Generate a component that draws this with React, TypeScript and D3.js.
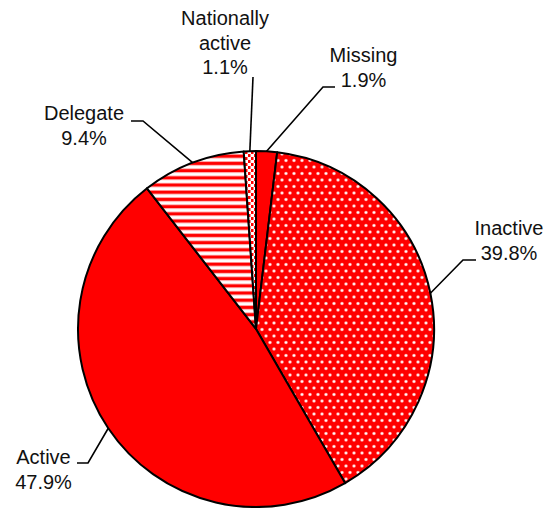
import React from "react";
import * as d3 from "d3";

const categories = ["Missing", "Inactive", "Active", "Delegate", "Nationally active"];
const values = [1.9, 39.8, 47.9, 9.4, 1.1];
const labelLines = [["Missing"], ["Inactive"], ["Active"], ["Delegate"], ["Nationally", "active"]];
const fills = ["solid", "dots", "solid", "stripes", "dashes"];

// label layout (text centre x, first baseline y, leader elbow, leader end)
const labelLayout = [
  { x: 363.5, y: 62, elbow: [323, 87], end: [335, 87] },
  { x: 509, y: 235, elbow: [463, 260], end: [476, 260] },
  { x: 43.5, y: 464, elbow: [88, 463], end: [77, 463] },
  { x: 84, y: 120, elbow: [143, 121], end: [131, 121] },
  { x: 225, y: 25, elbow: [253, 77], end: [253, 77] },
];

const W = 548;
const H = 508;
const CX = 256;
const CY = 329;
const R = 178;
const RED = "#ff0000";

export default function App() {
  const pie = d3.pie<number>().sort(null).value((d) => d).startAngle(0).endAngle(2 * Math.PI);
  const arcs = pie(values);
  const arc = d3.arc<d3.PieArcDatum<number>>().innerRadius(0).outerRadius(R);
  const edge = d3.arc<d3.PieArcDatum<number>>().innerRadius(R).outerRadius(R);

  const fillFor = (f: string) =>
    f === "solid" ? RED : f === "dots" ? "url(#dots)" : f === "stripes" ? "url(#stripes)" : "url(#dashes)";

  return (
    <svg
      width={W}
      height={H}
      style={{ position: "absolute", left: 0, top: 0, background: "#fff" }}
      fontFamily="'Liberation Sans', Arial, sans-serif"
    >
      <defs>
        <pattern id="dots" patternUnits="userSpaceOnUse" width={8} height={13} x={CX} y={CY}>
          <rect width={8} height={13} fill={RED} />
          <circle cx={2} cy={3} r={1.8} fill="#ffa0a0" />
          <circle cx={2} cy={3} r={1.0} fill="#fff" />
          <circle cx={6} cy={9.5} r={1.8} fill="#ffa0a0" />
          <circle cx={6} cy={9.5} r={1.0} fill="#fff" />
        </pattern>
        <pattern id="stripes" patternUnits="userSpaceOnUse" width={8} height={7.2} x={0} y={CY}>
          <rect width={8} height={7.2} fill="#fff" />
          <rect y={0} width={8} height={0.8} fill="#ff9a9a" />
          <rect y={0.8} width={8} height={3} fill={RED} />
          <rect y={3.8} width={8} height={0.8} fill="#ff9a9a" />
        </pattern>
        <pattern id="dashes" patternUnits="userSpaceOnUse" width={6} height={6} x={CX} y={CY}>
          <rect width={6} height={6} fill="#fff" />
          <rect x={0} y={0} width={2.5} height={3} fill={RED} />
          <rect x={3} y={3} width={2.5} height={3} fill={RED} />
        </pattern>
      </defs>

      <g transform={`translate(${CX},${CY})`}>
        {arcs.map((a, i) => (
          <path
            key={categories[i]}
            d={arc(a) || ""}
            fill={fillFor(fills[i])}
            stroke="#000"
            strokeWidth={2}
            strokeLinejoin="round"
          />
        ))}
      </g>

      {arcs.map((a, i) => {
        const [px, py] = edge.centroid(a);
        const L = labelLayout[i];
        const pts = [
          [CX + px, CY + py],
          L.elbow,
          L.end,
        ];
        const line = d3.line()(pts as [number, number][]) || "";
        return <path key={"l" + i} d={line} fill="none" stroke="#000" strokeWidth={1.6} />;
      })}

      {arcs.map((a, i) => {
        const L = labelLayout[i];
        const lines = [...labelLines[i], `${values[i].toFixed(1)}%`];
        return (
          <text key={"t" + i} x={L.x} y={L.y} textAnchor="middle" fontSize={20} fill="#111">
            {lines.map((ln, j) => (
              <tspan key={j} x={L.x} y={L.y + j * 24.5}>
                {ln}
              </tspan>
            ))}
          </text>
        );
      })}
    </svg>
  );
}
